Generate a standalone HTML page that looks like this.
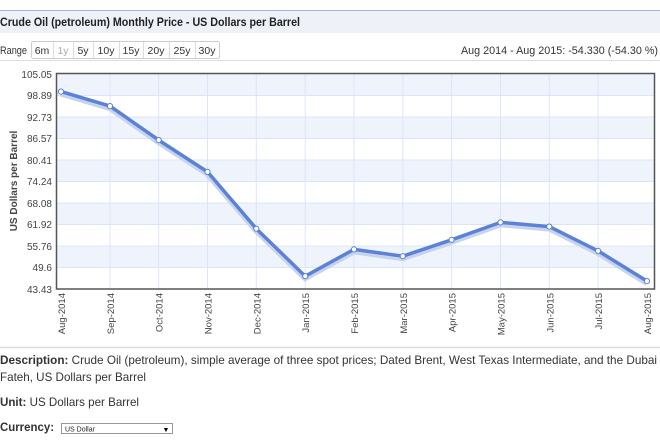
<!DOCTYPE html><html><head><style>body{margin:0;width:660px;height:440px;background:#fff;font-family:"Liberation Sans",Arial,sans-serif;overflow:hidden}</style></head><body>
<svg width="660" height="440" xmlns="http://www.w3.org/2000/svg" font-family="Liberation Sans, Arial, sans-serif">
<rect x="0" y="10" width="660" height="23" fill="#eef1f7"/>
<line x1="0" y1="10.5" x2="660" y2="10.5" stroke="#9bb5e0"/>
<text x="0" y="26" font-size="12" font-weight="bold" fill="#222" textLength="300" lengthAdjust="spacingAndGlyphs">Crude Oil (petroleum) Monthly Price - US Dollars per Barrel</text>
<text x="0" y="54" font-size="11" fill="#333" textLength="27" lengthAdjust="spacingAndGlyphs">Range</text>
<g font-size="10.5" fill="#333" text-anchor="middle">
<rect x="31.5" y="41.5" width="188" height="17" rx="2" fill="#fff" stroke="#ccc"/>
<g stroke="#ddd"><line x1="53.5" y1="42" x2="53.5" y2="58"/><line x1="73.5" y1="42" x2="73.5" y2="58"/><line x1="93.5" y1="42" x2="93.5" y2="58"/><line x1="119.5" y1="42" x2="119.5" y2="58"/><line x1="143.5" y1="42" x2="143.5" y2="58"/><line x1="169.5" y1="42" x2="169.5" y2="58"/><line x1="195.5" y1="42" x2="195.5" y2="58"/></g>
<text x="42" y="54">6m</text><text x="63" y="54" fill="#aaa">1y</text><text x="83" y="54">5y</text><text x="106" y="54">10y</text><text x="131" y="54">15y</text><text x="156" y="54">20y</text><text x="182" y="54">25y</text><text x="207" y="54">30y</text>
</g>
<text x="461" y="54" font-size="11" fill="#333" textLength="197" lengthAdjust="spacingAndGlyphs">Aug 2014 - Aug 2015: -54.330 (-54.30 %)</text>
<line x1="0" y1="60.5" x2="660" y2="60.5" stroke="#ddd"/>
<g fill="#eff3fb">
<rect x="56" y="74" width="598" height="21.5"/><rect x="56" y="117" width="598" height="21.5"/><rect x="56" y="160" width="598" height="21.5"/><rect x="56" y="203" width="598" height="21.5"/><rect x="56" y="246" width="598" height="21.5"/>
</g>
<g stroke="#dbe5fa" stroke-width="1">
<line x1="56" y1="95.5" x2="654" y2="95.5"/><line x1="56" y1="117" x2="654" y2="117"/><line x1="56" y1="138.5" x2="654" y2="138.5"/><line x1="56" y1="160" x2="654" y2="160"/><line x1="56" y1="181.5" x2="654" y2="181.5"/><line x1="56" y1="203" x2="654" y2="203"/><line x1="56" y1="224.5" x2="654" y2="224.5"/><line x1="56" y1="246" x2="654" y2="246"/><line x1="56" y1="267.5" x2="654" y2="267.5"/>
<line x1="110" y1="74" x2="110" y2="289"/><line x1="158.7" y1="74" x2="158.7" y2="289"/><line x1="207.5" y1="74" x2="207.5" y2="289"/><line x1="256.3" y1="74" x2="256.3" y2="289"/><line x1="305.2" y1="74" x2="305.2" y2="289"/><line x1="354" y1="74" x2="354" y2="289"/><line x1="402.8" y1="74" x2="402.8" y2="289"/><line x1="451.6" y1="74" x2="451.6" y2="289"/><line x1="500.5" y1="74" x2="500.5" y2="289"/><line x1="549.3" y1="74" x2="549.3" y2="289"/><line x1="598.1" y1="74" x2="598.1" y2="289"/>
</g>
<rect x="56.5" y="73.5" width="598" height="215.5" fill="none" stroke="#555" stroke-width="1.5"/>
<g font-size="10" fill="#444" text-anchor="end">
<text x="52" y="78">105.05</text><text x="52" y="99">98.89</text><text x="52" y="121">92.73</text><text x="52" y="142">86.57</text><text x="52" y="164">80.41</text><text x="52" y="185">74.24</text><text x="52" y="207">68.08</text><text x="52" y="228">61.92</text><text x="52" y="250">55.76</text><text x="52" y="271">49.6</text><text x="52" y="293">43.43</text>
</g>
<text transform="translate(17,181) rotate(-90)" font-size="10" font-weight="bold" fill="#444" text-anchor="middle">US Dollars per Barrel</text>
<g font-size="9.5" fill="#444" text-anchor="end">
<text transform="translate(65,293) rotate(-90)">Aug-2014</text>
<text transform="translate(114,293) rotate(-90)">Sep-2014</text>
<text transform="translate(162.7,293) rotate(-90)">Oct-2014</text>
<text transform="translate(211.5,293) rotate(-90)">Nov-2014</text>
<text transform="translate(260.3,293) rotate(-90)">Dec-2014</text>
<text transform="translate(309.2,293) rotate(-90)">Jan-2015</text>
<text transform="translate(358,293) rotate(-90)">Feb-2015</text>
<text transform="translate(406.8,293) rotate(-90)">Mar-2015</text>
<text transform="translate(455.6,293) rotate(-90)">Apr-2015</text>
<text transform="translate(504.5,293) rotate(-90)">May-2015</text>
<text transform="translate(553.3,293) rotate(-90)">Jun-2015</text>
<text transform="translate(602.1,293) rotate(-90)">Jul-2015</text>
<text transform="translate(651,293) rotate(-90)">Aug-2015</text>
</g>
<polyline fill="none" stroke="#c8d4ee" stroke-width="6" points="61,93.6 110,108.1 158.7,142.1 207.5,173.9 256.3,230.7 305.2,278.2 354,251.4 402.8,258.2 451.6,241.8 500.5,224.4 549.3,228.6 598.1,252.9 647,283.1"/>
<polyline fill="none" stroke="#5b82d6" stroke-width="3.5" stroke-linejoin="round" points="61,91.6 110,106.1 158.7,140.1 207.5,171.9 256.3,228.7 305.2,276.2 354,249.4 402.8,256.2 451.6,239.8 500.5,222.4 549.3,226.6 598.1,250.9 647,281.1"/>
<g fill="#fff" stroke="#5b82d6" stroke-width="1">
<circle cx="61" cy="91.6" r="2.6"/><circle cx="110" cy="106.1" r="2.6"/><circle cx="158.7" cy="140.1" r="2.6"/><circle cx="207.5" cy="171.9" r="2.6"/><circle cx="256.3" cy="228.7" r="2.6"/><circle cx="305.2" cy="276.2" r="2.6"/><circle cx="354" cy="249.4" r="2.6"/><circle cx="402.8" cy="256.2" r="2.6"/><circle cx="451.6" cy="239.8" r="2.6"/><circle cx="500.5" cy="222.4" r="2.6"/><circle cx="549.3" cy="226.6" r="2.6"/><circle cx="598.1" cy="250.9" r="2.6"/><circle cx="647" cy="281.1" r="2.6"/>
</g>
<line x1="0" y1="347.5" x2="660" y2="347.5" stroke="#ddd" stroke-width="1.5"/>
<g font-size="12" fill="#333">
<text x="0" y="364" textLength="657" lengthAdjust="spacingAndGlyphs"><tspan font-weight="bold">Description:</tspan> Crude Oil (petroleum), simple average of three spot prices; Dated Brent, West Texas Intermediate, and the Dubai</text>
<text x="0" y="381" textLength="146" lengthAdjust="spacingAndGlyphs">Fateh, US Dollars per Barrel</text>
<text x="0" y="406" textLength="139" lengthAdjust="spacingAndGlyphs"><tspan font-weight="bold">Unit:</tspan> US Dollars per Barrel</text>
<text x="0" y="431" font-weight="bold" textLength="54" lengthAdjust="spacingAndGlyphs">Currency:</text>
</g>
<rect x="61.5" y="423.5" width="111" height="10" fill="#fff" stroke="#999"/>
<text x="65" y="431.5" font-size="7" fill="#222">US Dollar</text>
<text x="166" y="432" font-size="7" fill="#000" text-anchor="middle">▼</text>
</svg>
</body></html>
